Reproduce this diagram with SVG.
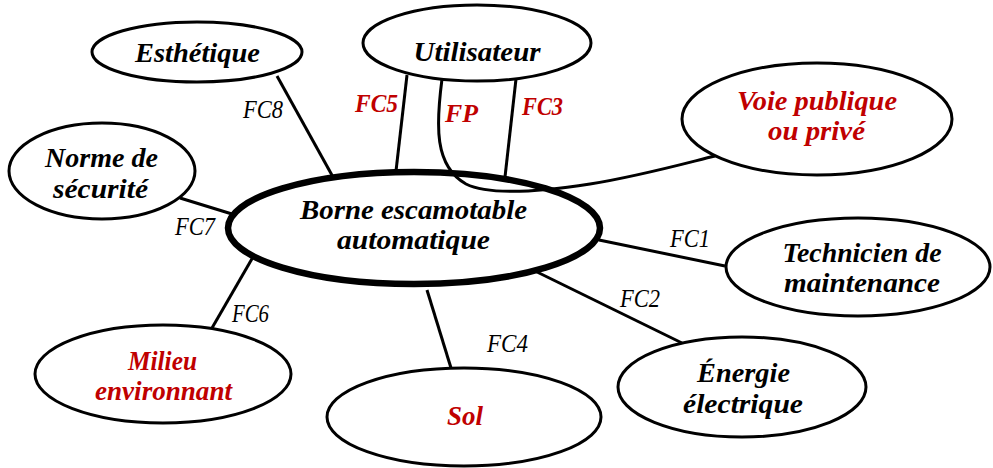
<svg xmlns="http://www.w3.org/2000/svg" width="993" height="468" viewBox="0 0 993 468">
<style>
.n{fill:#fff;stroke:#000;stroke-width:3}
.c{fill:#fff;stroke:#000;stroke-width:6.5}
.t{font-family:"Liberation Serif",serif;font-weight:bold;font-style:italic;font-size:27px;text-anchor:middle;fill:#000}
.r{fill:#C00000}
.l{font-family:"Liberation Serif",serif;font-style:italic;font-size:25px;text-anchor:middle;fill:#000}
.lr{font-family:"Liberation Serif",serif;font-weight:bold;font-style:italic;font-size:26px;text-anchor:middle;fill:#C00000}
.k{fill:none;stroke:#000;stroke-width:3}
</style>
<rect width="993" height="468" fill="#fff"/>
<g id="nodes">
<g id="borne">
<ellipse class="c" cx="414" cy="228" rx="186" ry="56"/>
<text class="t" x="413.5" y="219" textLength="227" lengthAdjust="spacingAndGlyphs">Borne escamotable</text>
<text class="t" x="413.5" y="249" textLength="153" lengthAdjust="spacingAndGlyphs">automatique</text>
</g>
<g id="utilisateur">
<ellipse class="n" cx="477" cy="43" rx="114" ry="38"/>
<text class="t" x="477" y="61" textLength="127" lengthAdjust="spacingAndGlyphs">Utilisateur</text>
</g>
<g id="esthetique">
<ellipse class="n" cx="197" cy="52" rx="105" ry="30"/>
<text class="t" x="197.5" y="62" textLength="125" lengthAdjust="spacingAndGlyphs">Esthétique</text>
</g>
<g id="norme">
<ellipse class="n" cx="102" cy="171" rx="93" ry="48"/>
<text class="t" x="101.5" y="167" textLength="113" lengthAdjust="spacingAndGlyphs">Norme de</text>
<text class="t" x="100.5" y="198" textLength="95" lengthAdjust="spacingAndGlyphs">sécurité</text>
</g>
<g id="voie">
<ellipse class="n" cx="817" cy="119" rx="135" ry="56"/>
<text class="t r" x="817" y="110" textLength="160" lengthAdjust="spacingAndGlyphs">Voie publique</text>
<text class="t r" x="816.5" y="140" textLength="97" lengthAdjust="spacingAndGlyphs">ou privé</text>
</g>
<g id="technicien">
<ellipse class="n" cx="858" cy="267" rx="132" ry="49"/>
<text class="t" x="862" y="262" textLength="159" lengthAdjust="spacingAndGlyphs">Technicien de</text>
<text class="t" x="862" y="292" textLength="156" lengthAdjust="spacingAndGlyphs">maintenance</text>
</g>
<g id="energie">
<ellipse class="n" cx="742" cy="387" rx="124" ry="50"/>
<text class="t" x="743.5" y="382" textLength="93" lengthAdjust="spacingAndGlyphs">Énergie</text>
<text class="t" x="743" y="413" textLength="120" lengthAdjust="spacingAndGlyphs">électrique</text>
</g>
<g id="milieu">
<ellipse class="n" cx="163" cy="374" rx="128" ry="49"/>
<text class="t r" x="162.5" y="370" textLength="69" lengthAdjust="spacingAndGlyphs">Milieu</text>
<text class="t r" x="163.5" y="400" textLength="137" lengthAdjust="spacingAndGlyphs">environnant</text>
</g>
<g id="sol">
<ellipse class="n" cx="464" cy="417" rx="137" ry="49"/>
<text class="t r" x="465" y="425" textLength="36" lengthAdjust="spacingAndGlyphs">Sol</text>
</g>
</g>
<g id="connectors">
<line class="k" x1="277" y1="76" x2="333" y2="177"/>
<line class="k" x1="180" y1="198" x2="232" y2="214"/>
<line class="k" x1="212" y1="328" x2="253" y2="257"/>
<line class="k" x1="427" y1="290" x2="451" y2="368"/>
<line class="k" x1="535" y1="271" x2="682" y2="343"/>
<line class="k" x1="599" y1="240" x2="725" y2="266"/>
<line class="k" x1="407" y1="75" x2="396" y2="171"/>
<line class="k" x1="516" y1="79" x2="505" y2="177"/>
<path class="k" d="M442,79 C436,125 434,166 466,184 C490,196 545,191 590,184 C640,176 690,162 715,156"/>
</g>
<g id="labels">
<text class="l" x="263" y="118" textLength="40" lengthAdjust="spacingAndGlyphs">FC8</text>
<text class="l" x="195" y="235" textLength="40" lengthAdjust="spacingAndGlyphs">FC7</text>
<text class="l" x="250.5" y="322" textLength="37" lengthAdjust="spacingAndGlyphs">FC6</text>
<text class="l" x="507.5" y="352" textLength="41" lengthAdjust="spacingAndGlyphs">FC4</text>
<text class="l" x="640" y="307" textLength="40" lengthAdjust="spacingAndGlyphs">FC2</text>
<text class="l" x="690" y="247" textLength="40" lengthAdjust="spacingAndGlyphs">FC1</text>
<text class="lr" x="376.5" y="112" textLength="43" lengthAdjust="spacingAndGlyphs">FC5</text>
<text class="lr" x="461.5" y="122" font-size="28" textLength="33" lengthAdjust="spacingAndGlyphs">FP</text>
<text class="lr" x="542.5" y="115" textLength="41" lengthAdjust="spacingAndGlyphs">FC3</text>
</g>
</svg>
